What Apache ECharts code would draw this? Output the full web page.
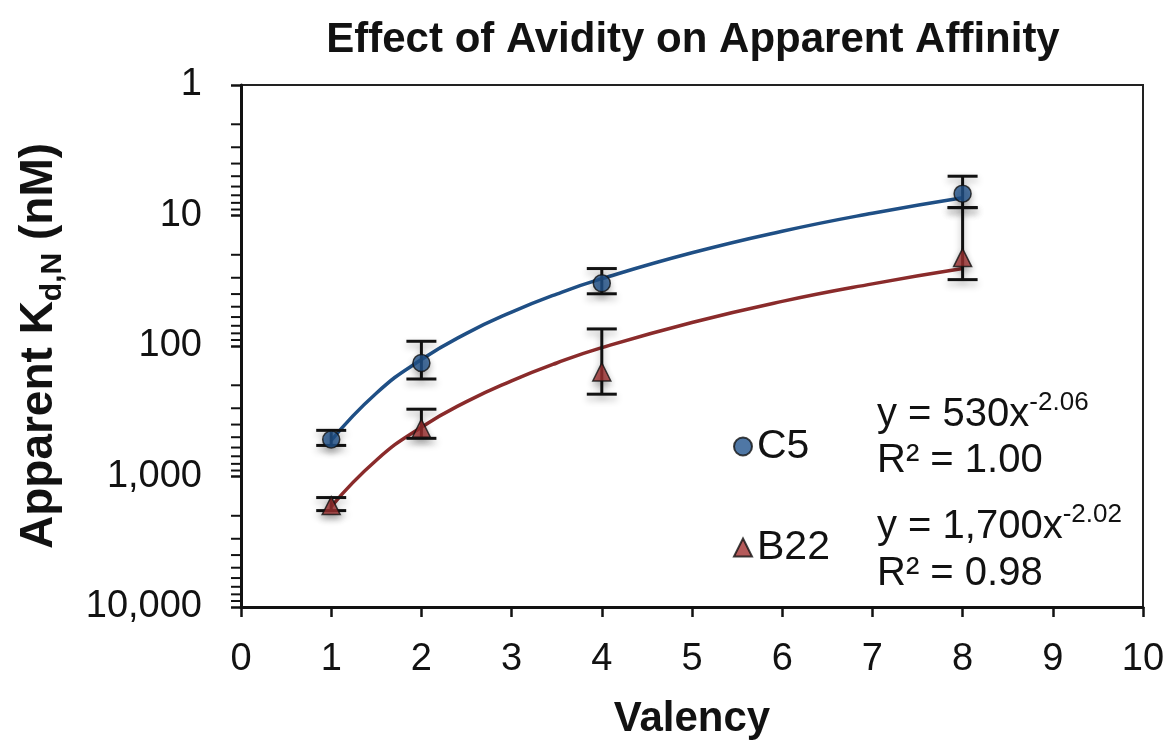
<!DOCTYPE html>
<html>
<head>
<meta charset="utf-8">
<script src="https://cdn.jsdelivr.net/npm/echarts@6/dist/echarts.min.js"></script>
<style>
  html, body { margin: 0; padding: 0; background: #fff; }
  #main { width: 1172px; height: 745px; }
</style>
</head>
<body>
<div id="main"></div>
<script>
// valency values where measurements were made
var valency = [1, 2, 4, 8];

// C5 apparent Kd (nM) with error bar ends
var c5Kd = [520, 135, 33, 6.8];
var c5Low = [443, 92, 25.5, 5.0];
var c5High = [578, 179, 39.8, 8.7];

// B22 apparent Kd (nM) with error bar ends
var b22Kd = [1670, 427, 158, 21];
var b22Low = [1450, 305, 74, 8.7];
var b22High = [1825, 510, 234, 31];

// power trend lines
var trendX = [1, 1.5, 2, 2.5, 3, 3.5, 4, 5, 6, 7, 8];
var c5Trend = [530, 230, 127, 80, 55, 40, 30.5, 19.3, 13.2, 9.6, 7.3];
var b22Trend = [1700, 750, 419, 267, 185, 135, 103, 66, 45.5, 33.4, 25.5];

// axis ticks
var yDecades = [1, 10, 100, 1000];
var yMinorSteps = [2, 3, 4, 5, 6, 7, 8, 9];

var FONT = 'Liberation Sans, Arial, sans-serif';
var INK = '#121212';
var C5_COLOR = '#23558f';
var C5_LINE = '#1f4f85';
var B22_COLOR = '#a23232';
var B22_LINE = '#8a2b2b';

var minorTicks = [];
yDecades.forEach(function (d) {
  yMinorSteps.forEach(function (s) { minorTicks.push([0, d * s]); });
});

function zip3(a, b, c) {
  return a.map(function (v, i) { return [v, b[i], c[i]]; });
}
function pairs(a, b) {
  return a.map(function (v, i) { return [v, b[i]]; });
}

var shadow = { shadowBlur: 7, shadowColor: 'rgba(0,0,0,0.3)', shadowOffsetY: 4 };

function errorBar(params, api) {
  var x = api.value(0);
  var p1 = api.coord([x, api.value(1)]);
  var p2 = api.coord([x, api.value(2)]);
  var w = 15;
  var st = Object.assign({ stroke: INK, lineWidth: 3 }, shadow);
  return {
    type: 'group',
    children: [
      { type: 'line', shape: { x1: p1[0], y1: p1[1], x2: p2[0], y2: p2[1] }, style: st },
      { type: 'line', shape: { x1: p1[0] - w, y1: p1[1], x2: p1[0] + w, y2: p1[1] }, style: st },
      { type: 'line', shape: { x1: p2[0] - w, y1: p2[1], x2: p2[0] + w, y2: p2[1] }, style: st }
    ]
  };
}

var myChart = echarts.init(document.getElementById('main'));

var eqRich = {
  m: { fontFamily: FONT, fontSize: 40, fill: INK, lineHeight: 50 },
  s: { fontFamily: FONT, fontSize: 26, fill: INK, lineHeight: 26, verticalAlign: 'top' }
};

var option = {
  backgroundColor: '#fff',
  animation: false,
  title: {
    text: 'Effect of Avidity on Apparent Affinity',
    left: 688,
    textAlign: 'center',
    top: 14,
    textStyle: { fontFamily: FONT, fontSize: 42, fontWeight: 'bold', color: INK }
  },
  grid: {
    left: 241, right: 29, top: 85, bottom: 138,
    show: true, borderColor: '#222', borderWidth: 2, backgroundColor: '#fff'
  },
  legend: {
    data: ['C5', 'B22'],
    orient: 'vertical',
    left: 728,
    top: 421,
    itemGap: 60,
    itemWidth: 18,
    itemHeight: 18,
    textStyle: { fontFamily: FONT, fontSize: 41, color: INK }
  },
  xAxis: {
    type: 'value',
    min: 0, max: 10, interval: 1,
    name: 'Valency',
    nameLocation: 'middle',
    nameGap: 91,
    nameTextStyle: { fontFamily: FONT, fontSize: 42, fontWeight: 'bold', color: INK },
    axisLine: { lineStyle: { color: INK, width: 3 } },
    axisTick: { inside: false, length: 10, lineStyle: { color: INK, width: 2.5 } },
    axisLabel: { margin: 34, fontFamily: FONT, fontSize: 38, color: INK },
    splitLine: { show: false }
  },
  yAxis: {
    type: 'log',
    logBase: 10,
    min: 1, max: 10000,
    inverse: true,
    name: 'Apparent K{sub|d,N} (nM)',
    nameLocation: 'middle',
    nameGap: 173,
    nameRotate: 90,
    nameTextStyle: {
      fontFamily: FONT, fontSize: 46, fontWeight: 'bold', color: INK, lineHeight: 58,
      rich: {
        sub: { fontFamily: FONT, fontSize: 30, fontWeight: 'bold', color: INK, lineHeight: 30, verticalAlign: 'bottom' }
      }
    },
    axisLine: { show: true, lineStyle: { color: INK, width: 3 } },
    axisTick: { inside: false, length: 10, lineStyle: { color: INK, width: 2.5 } },
    axisLabel: {
      margin: 39, fontFamily: FONT, fontSize: 38, color: INK,
      formatter: function (v) { return Number(v).toLocaleString('en-US'); }
    },
    splitLine: { show: false }
  },
  series: [
    {
      name: 'minor ticks',
      type: 'custom',
      silent: true,
      clip: false,
      data: minorTicks,
      renderItem: function (params, api) {
        var p = api.coord([api.value(0), api.value(1)]);
        return {
          type: 'line',
          shape: { x1: p[0] - 10, y1: p[1], x2: p[0], y2: p[1] },
          style: { stroke: INK, lineWidth: 2 }
        };
      }
    },
    {
      name: 'C5 fit',
      type: 'line',
      smooth: true,
      showSymbol: false,
      data: pairs(trendX, c5Trend),
      lineStyle: { color: C5_LINE, width: 3.5 },
      z: 3
    },
    {
      name: 'B22 fit',
      type: 'line',
      smooth: true,
      showSymbol: false,
      data: pairs(trendX, b22Trend),
      lineStyle: { color: B22_LINE, width: 3.5 },
      z: 3
    },
    {
      name: 'C5 error',
      type: 'custom',
      data: zip3(valency, c5Low, c5High),
      encode: { x: 0, y: [1, 2] },
      renderItem: errorBar,
      z: 4
    },
    {
      name: 'B22 error',
      type: 'custom',
      data: zip3(valency, b22Low, b22High),
      encode: { x: 0, y: [1, 2] },
      renderItem: errorBar,
      z: 4
    },
    {
      name: 'C5',
      type: 'scatter',
      symbol: 'circle',
      symbolSize: 17,
      data: pairs(valency, c5Kd),
      itemStyle: Object.assign({ color: C5_COLOR, borderColor: INK, borderWidth: 1.5 }, shadow),
      z: 5
    },
    {
      name: 'B22',
      type: 'scatter',
      symbol: 'triangle',
      symbolSize: 18,
      data: pairs(valency, b22Kd),
      itemStyle: Object.assign({ color: B22_COLOR, borderColor: INK, borderWidth: 1.5 }, shadow),
      z: 5
    }
  ],
  graphic: [
    {
      type: 'text', left: 877, top: 390,
      style: { text: '{m|y = 530x}{s|-2.06}', rich: eqRich }
    },
    {
      type: 'text', left: 877, top: 441,
      style: { text: 'R² = 1.00', font: '40px ' + FONT, fill: INK }
    },
    {
      type: 'text', left: 877, top: 502,
      style: { text: '{m|y = 1,700x}{s|-2.02}', rich: eqRich }
    },
    {
      type: 'text', left: 877, top: 554,
      style: { text: 'R² = 0.98', font: '40px ' + FONT, fill: INK }
    }
  ]
};

myChart.setOption(option, true);
</script>
</body>
</html>
